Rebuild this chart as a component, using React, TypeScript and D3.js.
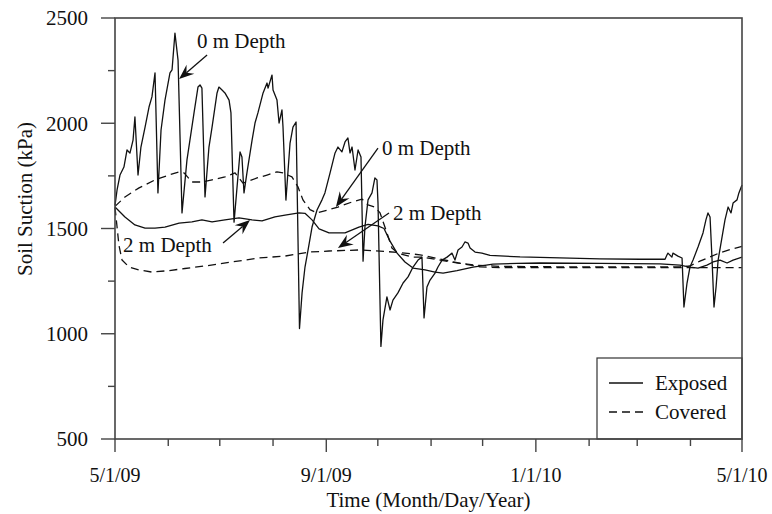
import React from "react";
import * as d3 from "d3";

// days after 5/1/09 and suction (kPa)
const exposed0Days = [0, 1.2, 2.9, 5.2, 7, 8.7, 10.5, 11.6, 13.4, 15.1, 17.5, 19.8, 21.5, 23.3, 25, 26.8, 29.1, 32, 33.2, 34.9, 36.7, 39, 41.9, 46, 48.3, 49.5, 50.6, 52.4, 54.7, 56.5, 59.4, 60.5, 62.3, 64, 66.4, 67.5, 69.3, 72.8, 73.9, 75.1, 76.8, 79.8, 81.5, 83.2, 86.2, 88.5, 89.1, 91.4, 92, 94.3, 95.5, 97.2, 97.8, 99.5, 101.9, 103.6, 105.4, 107.4, 108.9, 110.6, 112.4, 114.7, 117.6, 120.5, 122.2, 125.2, 128.1, 129.8, 132.1, 133.9, 135.6, 136.8, 138, 139.7, 141.5, 143.2, 144.4, 145.5, 147.3, 149.6, 151.3, 152.5, 153.1, 154.8, 156, 158.3, 160.1, 161.8, 164.7, 167.7, 170.6, 173.5, 176.4, 178.7, 179.9, 181.6, 183.4, 186.3, 188, 190.4, 193.3, 196.2, 197.9, 199.7, 202, 203.7, 205.5, 206.7, 209.6, 213.6, 218.3, 235.8, 259, 282.3, 305.6, 320.2, 321.3, 321.9, 324.2, 324.8, 327.7, 330.1, 331.2, 333, 334.7, 336.5, 339.4, 342.3, 344, 345.2, 346.4, 347.5, 348.7, 349.9, 351.1, 353.4, 355.1, 356.9, 358.6, 359.8, 362.1, 363.2, 365];
const exposed0Kpa = [1610, 1683, 1754, 1792, 1873, 1858, 1920, 2030, 1754, 1887, 1982, 2077, 2125, 2239, 1669, 1968, 2110, 2239, 2253, 2428, 2300, 1574, 1826, 2049, 2172, 2182, 2167, 1650, 1887, 1982, 2144, 2172, 2158, 2144, 2110, 2049, 1530, 1864, 1840, 1669, 1764, 1920, 2001, 2049, 2144, 2191, 2167, 2229, 2158, 2110, 2001, 2063, 1982, 1635, 1906, 1982, 2006, 1025, 1194, 1317, 1398, 1507, 1588, 1636, 1669, 1764, 1859, 1887, 1864, 1911, 1930, 1859, 1887, 1778, 1873, 1840, 1345, 1507, 1636, 1669, 1740, 1731, 1621, 940, 1066, 1175, 1113, 1160, 1194, 1241, 1270, 1317, 1350, 1364, 1075, 1222, 1255, 1288, 1317, 1350, 1364, 1383, 1350, 1398, 1412, 1436, 1431, 1407, 1388, 1383, 1372, 1365, 1360, 1356, 1354, 1354, 1374, 1383, 1364, 1383, 1369, 1360, 1127, 1241, 1317, 1350, 1412, 1479, 1541, 1574, 1555, 1364, 1127, 1222, 1350, 1460, 1541, 1602, 1574, 1621, 1636, 1669, 1707];

const exposed2Days = [0, 5.8, 11.6, 17.5, 23.3, 29.1, 37.3, 44.8, 50.6, 56.5, 64, 72.2, 79.8, 85.6, 93.1, 99, 107.1, 110.6, 114.7, 118.8, 124.6, 133.9, 142, 147.3, 153.1, 156.6, 160.1, 164.2, 168.8, 173.5, 180.5, 186.3, 191, 199.1, 208.4, 220, 234, 247.4, 282.3, 317.3, 328.9, 334.7, 339.4, 344.6, 348.2, 352.2, 356.3, 359.8, 365];
const exposed2Kpa = [1602, 1555, 1517, 1502, 1502, 1507, 1526, 1531, 1541, 1531, 1541, 1550, 1541, 1536, 1555, 1564, 1574, 1572, 1541, 1498, 1479, 1479, 1507, 1520, 1512, 1500, 1440, 1383, 1341, 1312, 1303, 1293, 1288, 1300, 1317, 1331, 1334, 1336, 1334, 1332, 1326, 1317, 1312, 1326, 1341, 1350, 1336, 1350, 1364];

const covered0Days = [0, 5.8, 14, 23.3, 31.4, 37.3, 40.2, 44.8, 50.6, 56.5, 64, 69.9, 74.5, 82.7, 88.5, 94.3, 97.8, 103, 106.5, 109.4, 113.5, 117.6, 124, 129.8, 138, 143.8, 147.3, 151.3, 154.3, 158.3, 161.2, 164.7, 172.9, 178.7, 189.2, 199.7, 209.6, 224.1, 259, 328.9, 334.7, 340.5, 346.4, 352.2, 358, 365];
const covered0Kpa = [1605, 1650, 1693, 1731, 1754, 1769, 1764, 1721, 1721, 1731, 1745, 1764, 1716, 1740, 1754, 1769, 1764, 1745, 1698, 1636, 1590, 1574, 1588, 1602, 1626, 1640, 1612, 1602, 1574, 1479, 1407, 1383, 1364, 1364, 1350, 1336, 1326, 1320, 1318, 1318, 1322, 1345, 1365, 1385, 1400, 1415];

const covered2Days = [0, 1.2, 2.3, 4.1, 8.2, 14, 21.5, 31.4, 40.7, 52.4, 68.1, 83.8, 99, 112.9, 124.6, 142, 158.9, 168.8, 177.6, 189.2, 200.8, 212.5, 224.1, 365];
const covered2Kpa = [1600, 1507, 1420, 1350, 1317, 1303, 1293, 1300, 1310, 1322, 1341, 1360, 1369, 1388, 1393, 1398, 1390, 1383, 1375, 1355, 1335, 1318, 1314, 1314];

const seriesNames = ["Exposed", "Covered"];
const yTickValues = [500, 1000, 1500, 2000, 2500];
const xLabelDates = ["2009-05-01", "2009-09-01", "2010-01-01", "2010-05-01"];

// callouts: label, text anchor (day, kPa), arrow tail, arrow tip
const callouts = [
  { text: "0 m Depth", at: [47.7, 2357], from: [53.6, 2324], to: [37.3, 2210] },
  { text: "0 m Depth", at: [155.4, 1849], from: [153.1, 1882], to: [128.6, 1602] },
  { text: "2 m Depth", at: [161.8, 1540], from: [159.5, 1574], to: [129.8, 1407] },
  { text: "2 m Depth", at: [4.7, 1388], from: [62.9, 1431], to: [78.6, 1540] },
];

const W = 772;
const H = 514;
const margin = { top: 18, right: 30, bottom: 75, left: 115 };
const txt = { fontFamily: '"Liberation Serif", "Times New Roman", Times, serif', fontSize: 21 };
const ink = "#111";

const start = new Date(2009, 4, 1);
const day = (d: number) => new Date(start.getTime() + d * 864e5);

export default function App() {
  const iw = W - margin.left - margin.right;
  const ih = H - margin.top - margin.bottom;

  const x = d3.scaleTime().domain([start, new Date(2010, 4, 1)]).range([0, iw]);
  const y = d3.scaleLinear().domain([500, 2500]).range([ih, 0]);

  const line = d3
    .line<[number, number]>()
    .x((d) => x(day(d[0])))
    .y((d) => y(d[1]));

  const pair = (a: number[], b: number[]) => a.map((v, i) => [v, b[i]] as [number, number]);

  const series = [
    { pts: pair(exposed0Days, exposed0Kpa), dash: null },
    { pts: pair(exposed2Days, exposed2Kpa), dash: null },
    { pts: pair(covered0Days, covered0Kpa), dash: "8,5" },
    { pts: pair(covered2Days, covered2Kpa), dash: "8,5" },
  ];

  const fmt = d3.timeFormat("%-m/%-d/%y");
  const majorDates = xLabelDates.map((s) => d3.timeParse("%Y-%m-%d")(s) as Date);
  const monthTicks = x.ticks(d3.timeMonth.every(1) as d3.TimeInterval);
  const minorY = d3.range(500, 2501, 250);

  const arrow = (c: (typeof callouts)[number], i: number) => {
    const x1 = x(day(c.from[0]));
    const y1 = y(c.from[1]);
    const x2 = x(day(c.to[0]));
    const y2 = y(c.to[1]);
    const ang = Math.atan2(y2 - y1, x2 - x1);
    const len = 15;
    const wing = 6;
    const ux = Math.cos(ang);
    const uy = Math.sin(ang);
    const bx = x2 - ux * len;
    const by = y2 - uy * len;
    const nx = x2 - ux * len * 0.65;
    const ny = y2 - uy * len * 0.65;
    const head = [
      [x2, y2],
      [bx - uy * wing, by + ux * wing],
      [nx, ny],
      [bx + uy * wing, by - ux * wing],
    ];
    return (
      <g key={i}>
        <line x1={x1} y1={y1} x2={nx} y2={ny} stroke={ink} strokeWidth={1.3} />
        <polygon points={head.map((p) => p.join(",")).join(" ")} fill={ink} />
        <text x={x(day(c.at[0]))} y={y(c.at[1])} style={txt} fill={ink}>
          {c.text}
        </text>
      </g>
    );
  };

  return (
    <svg width={W} height={H} style={{ position: "absolute", left: 0, top: 0, background: "#fff" }}>
      <g transform={`translate(${margin.left},${margin.top})`}>
        {series.map((s, i) => (
          <path
            key={i}
            d={line(s.pts) || ""}
            fill="none"
            stroke={ink}
            strokeWidth={1.3}
            strokeDasharray={s.dash || undefined}
            strokeLinejoin="round"
          />
        ))}

        {callouts.map(arrow)}

        {/* legend */}
        <g>
          <rect x={iw - 145} y={ih - 81} width={145} height={81} fill="#fff" stroke="#333" strokeWidth={1.2} />
          {seriesNames.map((n, i) => (
            <g key={n} transform={`translate(${iw - 133},${ih - 56 + i * 29})`}>
              <line x1={0} x2={34} y1={0} y2={0} stroke={ink} strokeWidth={1.3} strokeDasharray={i ? "8,5" : undefined} />
              <text x={46} y={7} style={txt} fill={ink}>
                {n}
              </text>
            </g>
          ))}
        </g>

        {/* frame */}
        <rect x={0} y={0} width={iw} height={ih} fill="none" stroke="#444" strokeWidth={1.6} />

        {/* y ticks */}
        {minorY.map((v) => (
          <line key={v} x1={v % 500 === 0 ? -14 : -7} x2={0} y1={y(v)} y2={y(v)} stroke="#444" strokeWidth={1.4} />
        ))}
        {yTickValues.map((v) => (
          <text key={v} x={-27} y={y(v)} dy="0.35em" textAnchor="end" style={txt} fill={ink}>
            {v}
          </text>
        ))}

        {/* x ticks */}
        {monthTicks.map((t) => {
          const major = majorDates.some((m) => m.getTime() === t.getTime());
          return (
            <line key={t.getTime()} x1={x(t)} x2={x(t)} y1={ih} y2={ih + (major ? 13 : 7)} stroke="#444" strokeWidth={1.4} />
          );
        })}
        {majorDates.map((t) => (
          <text key={t.getTime()} x={x(t)} y={ih + 43} textAnchor="middle" style={{ ...txt, fontSize: 20 }} fill={ink}>
            {fmt(t)}
          </text>
        ))}

        <text x={iw / 2} y={ih + 68} textAnchor="middle" style={txt} fill={ink}>
          Time (Month/Day/Year)
        </text>
        <text transform={`translate(${-83},${y(1640)}) rotate(-90)`} textAnchor="middle" style={txt} fill={ink}>
          Soil Suction (kPa)
        </text>
      </g>
    </svg>
  );
}
